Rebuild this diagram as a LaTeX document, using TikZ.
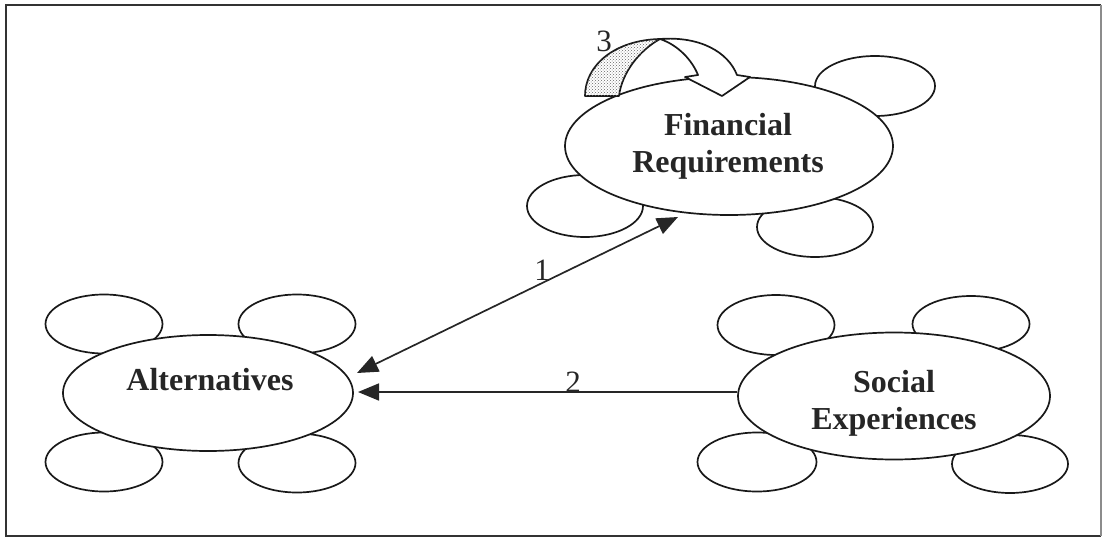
\documentclass[tikz,border=0pt]{standalone}
\usepackage{fontspec}
\setmainfont{Liberation Serif}
\usetikzlibrary{shapes.geometric,arrows.meta,patterns}

\begin{document}
\begin{tikzpicture}[x=1pt,y=-1pt,
  bubble/.style={draw=black!90, line width=1.7pt, fill=white, ellipse, inner sep=0pt},
  sat/.style={bubble, minimum width=117pt, minimum height=59pt},
  title/.style={font=\fontsize{32}{37}\selectfont\bfseries, text=black!85, align=center, inner sep=0pt},
  num/.style={font=\fontsize{31}{31}\selectfont, text=black!85, inner sep=0pt},
  conn/.style={line width=1.7pt, draw=black!85, {Triangle[length=21pt,width=17pt]}-{Triangle[length=21pt,width=17pt]}},
  conn1/.style={line width=1.7pt, draw=black!85, -{Triangle[length=21pt,width=17pt]}},
  band/.style={draw=black!90, line width=1.7pt, fill=white, line join=round},
]
\useasboundingbox (0,0) rectangle (1105,538);

% frame
\draw[line width=1.6pt, black!80] (1101,536) -- (6,536) -- (6,5) -- (1101,5);
\draw[line width=1.2pt, black!45] (1101,5) -- (1101,536);

% satellites of the three hubs
\node[sat] (a1) at (104,324) {};
\node[sat] (a2) at (297,324) {};
\node[sat] (a3) at (104,462) {};
\node[sat] (a4) at (297,463) {};

\node[sat, minimum height=60pt] (s1) at (776,325) {};
\node[sat, minimum height=56pt] (s2) at (971,324) {};
\node[sat, minimum width=119pt] (s3) at (757,462) {};
\node[sat, minimum width=116pt, minimum height=58pt] (s4) at (1010,464) {};

\node[sat, minimum width=120pt, minimum height=60pt] (f1) at (875,86) {};
\node[sat, minimum width=116pt, minimum height=62pt] (f2) at (585,206) {};
\node[sat, minimum width=116pt, minimum height=60pt] (f3) at (815,227) {};

% hubs
\node[bubble, minimum width=290pt, minimum height=116pt] (alt) at (208,393) {};
\node[bubble, minimum width=328pt, minimum height=138pt] (fin) at (729,146) {};
\node[bubble, minimum width=312pt, minimum height=127pt] (soc) at (894,396) {};

\node[title, anchor=base] (altt) at (210,390) {Alternatives};
\node[title, anchor=north] (fint) at (728,113) {Financial\\Requirements};
\node[title, anchor=north] (soct) at (894,370) {Social\\Experiences};

% curved feedback arrow on the financial hub
\path[draw=black!90, line width=1.7pt, fill=white, line join=round,
      postaction={pattern=crosshatch dots, pattern color=black!60}]
  (585,96) .. controls (585,65) and (615,40) .. (660,39)
  .. controls (640,50) and (622,72) .. (619,96) -- cycle;
\draw[band] (660,39) .. controls (700,36) and (728,52) .. (737,75)
  -- (750,77) -- (722,96) -- (685,77) -- (698,75)
  .. controls (692,60) and (678,45) .. (660,39) -- cycle;
\node[num] (n3) at (604,41) {3};

% connectors
\coordinate (t1) at (357,373);
\coordinate (t2) at (678,217);
\coordinate (t3) at (358,392);
\draw[conn] (t1) -- (t2);
\draw[conn1] (soc.west |- t3) -- (t3);

\node[num] (n1) at (542,270) {1};
\node[num] (n2) at (573,382) {2};
\end{tikzpicture}
\end{document}
